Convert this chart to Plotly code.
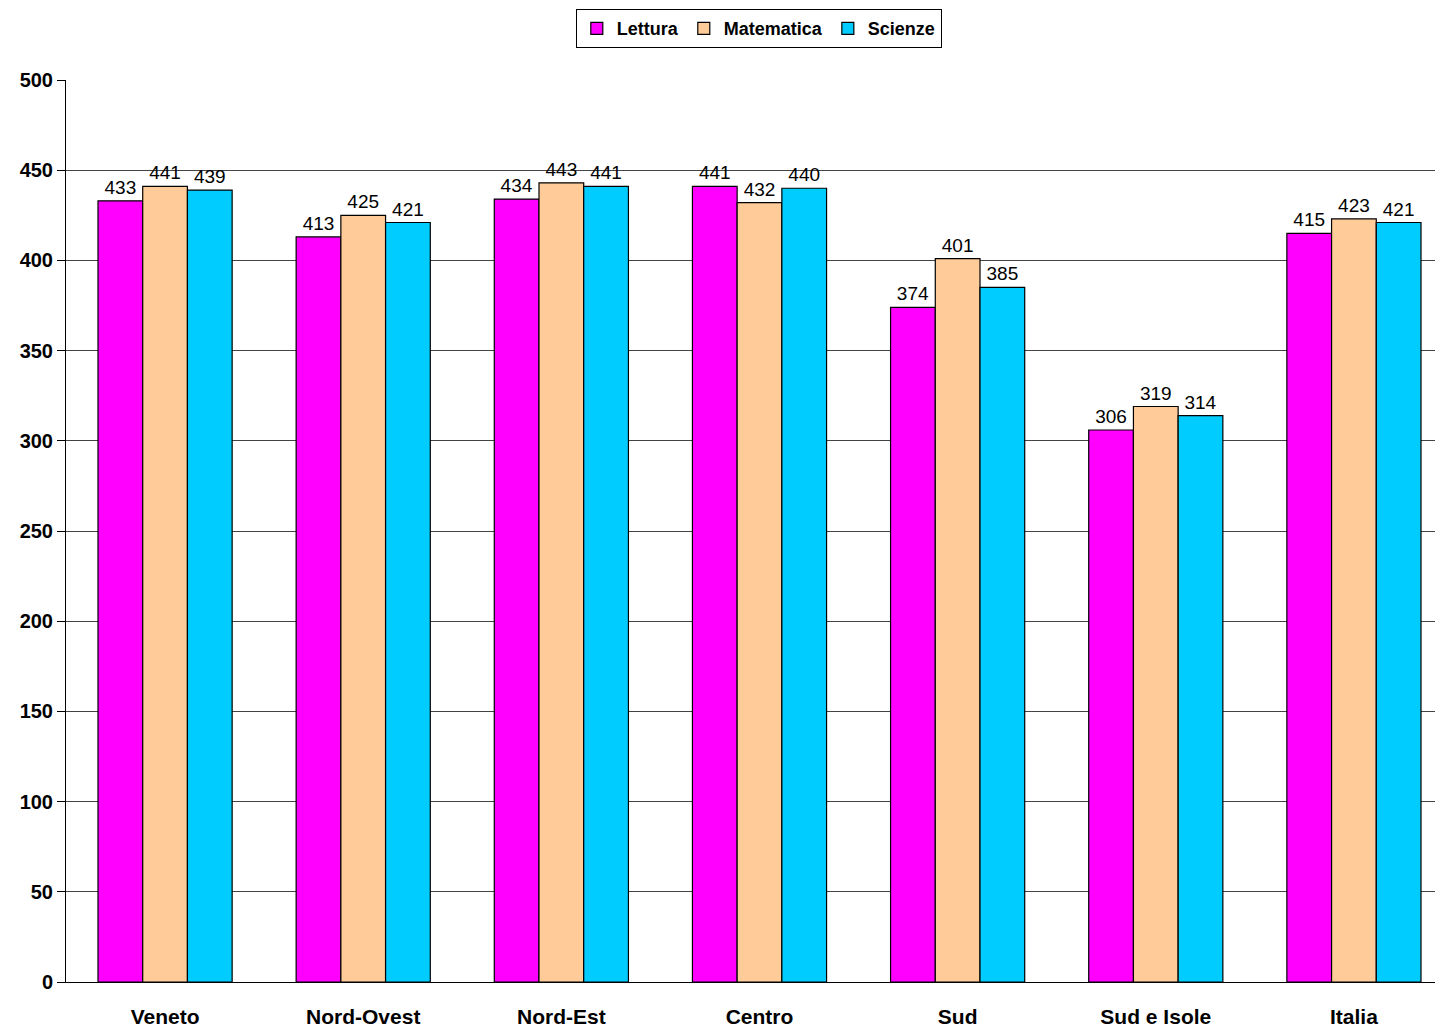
import plotly.graph_objects as go

regions = ["Veneto", "Nord-Ovest", "Nord-Est", "Centro", "Sud", "Sud e Isole", "Italia"]
lettura = [433, 413, 434, 441, 374, 306, 415]
matematica = [441, 425, 443, 432, 401, 319, 423]
scienze = [439, 421, 441, 440, 385, 314, 421]

series = [
    ("Lettura", lettura, "#FF00FF"),
    ("Matematica", matematica, "#FFCC99"),
    ("Scienze", scienze, "#00CCFF"),
]

fig = go.Figure()
for name, vals, color in series:
    fig.add_bar(
        x=regions,
        y=vals,
        name=name,
        marker=dict(color=color, line=dict(color="black", width=1.2)),
        text=[str(v) for v in vals],
        textposition="outside",
        textfont=dict(family="Arial", size=19, color="black"),
        cliponaxis=False,
    )

# plot area runs a little past the right edge of the window, as in the original
W, H = 1453, 1027
fig.update_layout(
    width=W,
    height=H,
    margin=dict(l=66, r=0, t=80, b=45),
    barmode="group",
    bargap=0.323,
    bargroupgap=0,
    plot_bgcolor="white",
    paper_bgcolor="white",
    font=dict(family="Arial", color="black"),
    legend=dict(
        orientation="h",
        x=0.4995,
        xanchor="center",
        y=0.991,
        yanchor="top",
        yref="container",
        bordercolor="black",
        borderwidth=1,
        font=dict(family="Arial", size=18, weight="bold"),
        itemwidth=30,
        traceorder="normal",
    ),
    xaxis=dict(
        automargin=False,
        showline=True,
        linecolor="black",
        linewidth=1,
        ticks="",
        ticklabelstandoff=16,
        tickfont=dict(family="Arial", size=21, weight="bold"),
    ),
    yaxis=dict(
        automargin=False,
        range=[0, 500],
        dtick=50,
        showline=True,
        linecolor="black",
        linewidth=1,
        gridcolor="#444444",
        gridwidth=1,
        ticks="outside",
        ticklen=8,
        tickcolor="black",
        tickfont=dict(family="Arial", size=20, weight="bold"),
        zeroline=False,
    ),
)

# drop the default body margin so the figure starts at the window corner
post = (
    "document.body.style.margin='0';"
    "document.body.style.overflow='hidden';"
    "Plotly.relayout('{plot_id}', {width: %d, height: %d});" % (W, H)
)
fig.write_html("out.html", post_script=post, config={"displayModeBar": False})
